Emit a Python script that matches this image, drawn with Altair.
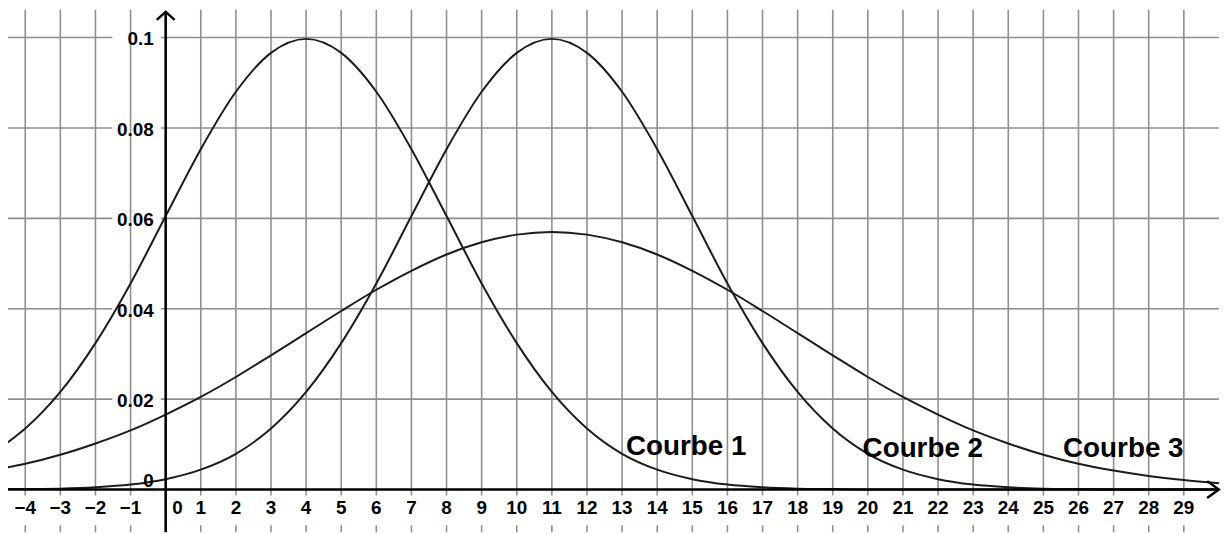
import altair as alt
import pandas as pd

# ---- data ----
xs = [-4.5, -4, -3, -2, -1, 0, 1, 2, 3, 4, 5, 6, 7, 8, 9, 10, 11, 12, 13, 14,
      15, 16, 17, 18, 19, 20, 21, 22, 23, 24, 25, 26, 27, 28, 29, 30]
curve1 = [0.0104, 0.0135, 0.0216, 0.0324, 0.0456, 0.0605, 0.0753, 0.0880, 0.0966, 0.0997,
          0.0966, 0.0880, 0.0753, 0.0605, 0.0456, 0.0324, 0.0216, 0.0135, 0.0079, 0.0044,
          0.0023, 0.0011, 0.0005, 0.0002, 0.0001, 0.0, 0.0, 0.0, 0.0, 0.0,
          0.0, 0.0, 0.0, 0.0, 0.0, 0.0]
curve2 = [0.0001, 0.0001, 0.0002, 0.0005, 0.0011, 0.0023, 0.0044, 0.0079, 0.0135, 0.0216,
          0.0324, 0.0456, 0.0605, 0.0753, 0.0880, 0.0966, 0.0997, 0.0966, 0.0880, 0.0753,
          0.0605, 0.0456, 0.0324, 0.0216, 0.0135, 0.0079, 0.0044, 0.0023, 0.0011, 0.0005,
          0.0002, 0.0001, 0.0, 0.0, 0.0, 0.0]
curve3 = [0.0049, 0.0057, 0.0077, 0.0102, 0.0131, 0.0166, 0.0205, 0.0249, 0.0297, 0.0346,
          0.0395, 0.0442, 0.0484, 0.0520, 0.0547, 0.0564, 0.0570, 0.0564, 0.0547, 0.0520,
          0.0484, 0.0442, 0.0395, 0.0346, 0.0297, 0.0249, 0.0205, 0.0166, 0.0131, 0.0102,
          0.0077, 0.0057, 0.0042, 0.0030, 0.0021, 0.0014]

y_ticks = [0.02, 0.04, 0.06, 0.08, 0.1]
y_tick_labels = ["0.02", "0.04", "0.06", "0.08", "0.1"]
x_ticks = [-4, -3, -2, -1, 1, 2, 3, 4, 5, 6, 7, 8, 9, 10, 11, 12, 13, 14, 15, 16,
           17, 18, 19, 20, 21, 22, 23, 24, 25, 26, 27, 28, 29]
x_tick_labels = ["\u22124", "\u22123", "\u22122", "\u22121", "1", "2", "3", "4", "5", "6",
                 "7", "8", "9", "10", "11", "12", "13", "14", "15", "16", "17", "18",
                 "19", "20", "21", "22", "23", "24", "25", "26", "27", "28", "29"]
curve_names = ["Courbe 1", "Courbe 2", "Courbe 3"]
curve_label_x = [13.11, 19.85, 25.56]
curve_label_y = [0.0076, 0.0073, 0.0073]

# ---- layout ----
XMIN, XMAX = -4.491, 30.116
YMIN, YMAX = -0.00945, 0.10615
X = alt.Scale(domain=[XMIN, XMAX], nice=False, zero=False)
Y = alt.Scale(domain=[YMIN, YMAX], nice=False, zero=False)
GRID = "#8f8f8f"
INK = "#1c1c1c"
FONT = "Liberation Sans"


def xq(f):
    return alt.X(f, type="quantitative", scale=X, axis=None)


def yq(f):
    return alt.Y(f, type="quantitative", scale=Y, axis=None)


# vertical grid lines (full height)
vg_df = pd.DataFrame({"x": x_ticks, "y1": [YMIN] * len(x_ticks), "y2": [YMAX] * len(x_ticks)})
vgrid = alt.Chart(vg_df).mark_rule(color=GRID, strokeWidth=1.6).encode(
    x=xq("x"), y=yq("y1"), y2="y2:Q")

# horizontal grid lines, interrupted behind the y labels
hg_rows = []
for t in y_ticks:
    hg_rows.append({"x1": XMIN, "x2": -1.52, "y": t})
    hg_rows.append({"x1": -0.14, "x2": 30.0, "y": t})
hgrid = alt.Chart(pd.DataFrame(hg_rows)).mark_rule(
    color=GRID, strokeWidth=1.6).encode(x=xq("x1"), x2="x2:Q", y=yq("y"))

# white band behind the x tick labels
band = alt.Chart(pd.DataFrame({"x1": [XMIN], "x2": [XMAX], "y1": [-0.00132], "y2": [-0.00790]})).mark_rect(
    color="white").encode(x=xq("x1"), x2="x2:Q", y=yq("y1"), y2="y2:Q")

# curves
rows = []
for name, ys in zip(curve_names, [curve1, curve2, curve3]):
    for xv, yv in zip(xs, ys):
        rows.append({"x": xv, "y": yv, "c": name})
curves = alt.Chart(pd.DataFrame(rows)).mark_line(
    interpolate="monotone", color=INK, strokeWidth=2, clip=True).encode(
    x=xq("x"), y=yq("y"), detail="c:N")

# axes
xaxis = alt.Chart(pd.DataFrame({"x1": [XMIN], "x2": [30.0], "y": [0.0]})).mark_rule(
    color="black", strokeWidth=2.6).encode(x=xq("x1"), x2="x2:Q", y=yq("y"))
yaxis = alt.Chart(pd.DataFrame({"x": [0.0], "y1": [YMIN], "y2": [0.1057]})).mark_rule(
    color="black", strokeWidth=2.6).encode(x=xq("x"), y=yq("y1"), y2="y2:Q")

xarrow = alt.Chart(pd.DataFrame({"x": [30.0], "y": [0.0]})).mark_point(
    shape="M -1.4 -1 L 0 0 L -1.4 1", size=289, filled=False, stroke="black",
    strokeWidth=2.4, opacity=1).encode(x=xq("x"), y=yq("y"))
yarrow = alt.Chart(pd.DataFrame({"x": [0.0], "y": [0.1057]})).mark_point(
    shape="M -1 0.9 L 0 0 L 1 0.9", size=324, filled=False, stroke="black",
    strokeWidth=2.4, opacity=1).encode(x=xq("x"), y=yq("y"))

# tick labels
ylab = alt.Chart(pd.DataFrame({"x": [0.0] * len(y_ticks), "y": y_ticks, "t": y_tick_labels})).mark_text(
    align="right", baseline="middle", dx=-12, dy=2, font=FONT, fontWeight="bold",
    fontSize=19, color="black").encode(x=xq("x"), y=yq("y"), text="t:N")
ylab0 = alt.Chart(pd.DataFrame({"x": [0.0], "y": [0.0], "t": ["0"]})).mark_text(
    align="right", baseline="middle", dx=-12, dy=-9, font=FONT, fontWeight="bold",
    fontSize=19, color="black").encode(x=xq("x"), y=yq("y"), text="t:N")
xlab = alt.Chart(pd.DataFrame({"x": x_ticks, "y": [0.0] * len(x_ticks), "t": x_tick_labels})).mark_text(
    align="center", baseline="middle", dy=19, font=FONT, fontWeight="bold",
    fontSize=19, color="black").encode(x=xq("x"), y=yq("y"), text="t:N")
xlab0 = alt.Chart(pd.DataFrame({"x": [0.0], "y": [0.0], "t": ["0"]})).mark_text(
    align="center", baseline="middle", dx=12, dy=19, font=FONT, fontWeight="bold",
    fontSize=19, color="black").encode(x=xq("x"), y=yq("y"), text="t:N")

# curve names
names = alt.Chart(pd.DataFrame({"x": curve_label_x, "y": curve_label_y, "t": curve_names})).mark_text(
    align="left", baseline="alphabetic", font=FONT, fontWeight="bold", fontSize=28,
    color="black").encode(x=xq("x"), y=yq("y"), text="t:N")

chart = alt.layer(
    vgrid, hgrid, band, curves, xaxis, yaxis, xarrow, yarrow,
    ylab, ylab0, xlab, xlab0, names
).properties(
    width=1223, height=526, padding=0, autosize="none", background="white"
).configure_view(stroke=None)

chart.save("out.html", embed_options={"renderer": "svg", "actions": False})
